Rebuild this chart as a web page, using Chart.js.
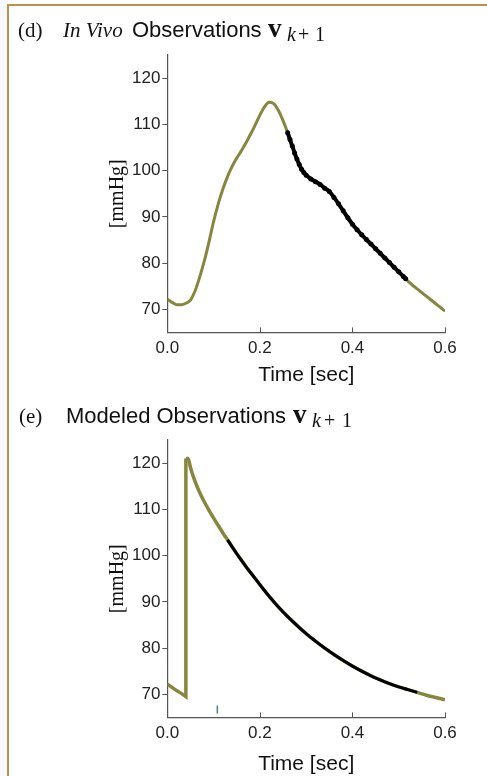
<!DOCTYPE html>
<html>
<head>
<meta charset="utf-8">
<script src="https://cdn.jsdelivr.net/npm/chart.js@4.4.1/dist/chart.umd.min.js"></script>
<style>
  html, body { margin: 0; padding: 0; background: #fff; overflow: hidden; }
  body { width: 487px; height: 776px; position: relative; }
  #strip { position: absolute; left: 0; top: 0; width: 7px; height: 776px; background: #f6f8fb; }
  #vline { position: absolute; left: 7px; top: 4px; width: 2px; height: 772px; background: #b8924e; }
  #hline { position: absolute; left: 7px; top: 4px; width: 480px; height: 2px; background: #b8924e; }
  .panel { position: absolute; left: 0; width: 487px; }
</style>
</head>
<body>
<div id="strip"></div>
<div id="vline"></div>
<div id="hline"></div>
<div class="panel" style="top:0;height:394px"><canvas id="chartD"></canvas></div>
<div class="panel" style="top:390px;height:389px"><canvas id="chartE"></canvas></div>
<script>
// axis ticks
const timeTicks = [0, 0.2, 0.4, 0.6];
const pressureTicks = [70, 80, 90, 100, 110, 120];

// (d) in vivo pressure trace
const vivoTimes = [0, 0.01, 0.02, 0.03, 0.04, 0.05, 0.06, 0.07, 0.08, 0.09,
  0.10, 0.11, 0.12, 0.13, 0.14, 0.15, 0.16, 0.17, 0.18, 0.19,
  0.20, 0.21, 0.22, 0.23, 0.24, 0.25, 0.26, 0.27, 0.28, 0.29,
  0.30, 0.31, 0.32, 0.33, 0.34, 0.35, 0.36, 0.37, 0.38, 0.39,
  0.40, 0.41, 0.42, 0.43, 0.44, 0.45, 0.46, 0.47, 0.48, 0.49,
  0.50, 0.51, 0.52, 0.53, 0.54, 0.55, 0.56, 0.57, 0.58, 0.59, 0.60];
const vivoPressure = [72.2, 71.5, 71.0, 71.0, 71.3, 72.0, 74.0, 77.0, 80.5, 84.6,
  89.0, 92.8, 96.0, 98.7, 100.9, 102.7, 104.3, 106.0, 107.9, 109.9,
  112.0, 113.8, 114.8, 114.5, 113.0, 110.8, 108.2, 105.3, 102.5, 100.3,
  99.0, 98.2, 97.6, 97.0, 96.2, 95.5, 94.2, 92.8, 91.3, 89.8,
  88.4, 87.2, 86.1, 85.1, 84.1, 83.1, 82.1, 81.1, 80.1, 79.1,
  78.1, 77.1, 76.1, 75.2, 74.4, 73.6, 72.8, 72.0, 71.2, 70.4, 69.6];

// (d) observed samples (black dots)
const vivoObsTimes = [0.26, 0.265, 0.27, 0.275, 0.28, 0.285, 0.29, 0.295, 0.30,
  0.31, 0.32, 0.33, 0.34, 0.35, 0.36, 0.37, 0.38, 0.39, 0.40,
  0.41, 0.42, 0.43, 0.44, 0.45, 0.46, 0.47, 0.48, 0.49, 0.50, 0.51, 0.515];
const vivoObsPressure = [108.2, 106.7, 105.3, 103.8, 102.5, 101.3, 100.3, 99.6, 99.0,
  98.2, 97.6, 97.0, 96.2, 95.5, 94.2, 92.8, 91.3, 89.8, 88.4,
  87.2, 86.1, 85.1, 84.1, 83.1, 82.1, 81.1, 80.1, 79.1, 78.1, 77.1, 76.6];

// (e) modeled trace: drop before the jump, then the decay
const modelRiseTimes = [0, 0.01, 0.02, 0.03, 0.04, 0.04];
const modelRisePressure = [72.2, 71.5, 70.8, 70.2, 69.5, 121.0];
const modelDecayTimes = [0.04, 0.045, 0.05, 0.06, 0.07, 0.08, 0.09, 0.10, 0.11, 0.12,
  0.13, 0.14, 0.15, 0.16, 0.17, 0.18, 0.19, 0.20, 0.22, 0.24,
  0.26, 0.28, 0.30, 0.32, 0.34, 0.36, 0.38, 0.40, 0.42, 0.44,
  0.46, 0.48, 0.50, 0.52, 0.54, 0.56, 0.58, 0.60];
const modelDecayPressure = [121.0, 121.0, 119.0, 116.0, 113.6, 111.6, 109.8, 108.1, 106.5, 104.9,
  103.4, 101.9, 100.4, 99.0, 97.6, 96.3, 95.0, 93.7, 91.2, 88.9,
  86.8, 84.9, 83.1, 81.5, 80.0, 78.6, 77.3, 76.1, 75.0, 74.0,
  73.1, 72.3, 71.6, 71.0, 70.4, 69.8, 69.3, 68.8];

// (e) modeled observations (black)
const modelObsTimes = [0.13, 0.14, 0.15, 0.16, 0.17, 0.18, 0.19, 0.20, 0.22, 0.24,
  0.26, 0.28, 0.30, 0.32, 0.34, 0.36, 0.38, 0.40, 0.42, 0.44,
  0.46, 0.48, 0.50, 0.52, 0.54];
const modelObsPressure = [103.4, 101.9, 100.4, 99.0, 97.6, 96.3, 95.0, 93.7, 91.2, 88.9,
  86.8, 84.9, 83.1, 81.5, 80.0, 78.6, 77.3, 76.1, 75.0, 74.0,
  73.1, 72.3, 71.6, 71.0, 70.4];

// small marker on (e)
const markerTimes = [0.108];
const markerPressure = [66.7];

const olive = '#86863f';

function toPoints(xs, ys) {
  return xs.map((x, i) => ({ x: x, y: ys[i] }));
}

// titles drawn straight on the canvas
const panelTitle = {
  id: 'panelTitle',
  afterDraw(chart, args, opts) {
    const ctx = chart.ctx;
    ctx.save();
    ctx.fillStyle = '#111';
    ctx.textBaseline = 'alphabetic';
    opts.parts.forEach(function (p) {
      ctx.font = p.font;
      ctx.fillText(p.text, p.x, opts.y + (p.dy || 0));
    });
    ctx.restore();
  }
};

// x ticks point into the plot
const inwardTicks = {
  id: 'inwardTicks',
  afterDraw(chart) {
    const xs = chart.scales.x, ctx = chart.ctx, bottom = chart.chartArea.bottom;
    ctx.save();
    ctx.strokeStyle = '#555';
    ctx.lineWidth = 1;
    xs.ticks.forEach(function (t) {
      const px = Math.round(xs.getPixelForValue(t.value)) + 0.5;
      ctx.beginPath();
      ctx.moveTo(px, bottom);
      ctx.lineTo(px, bottom - 5);
      ctx.stroke();
    });
    ctx.restore();
  }
};

function scalesConfig(titleShift) {
  return {
    x: {
      type: 'linear',
      min: 0,
      max: 0.6,
      afterBuildTicks: function (scale) {
        scale.ticks = timeTicks.map(v => ({ value: v }));
      },
      ticks: {
        padding: 6,
        color: '#222',
        font: { family: 'Liberation Sans', size: 17 },
        callback: v => Number(v).toFixed(1)
      },
      grid: { display: true, drawOnChartArea: false, drawTicks: false, color: '#555' },
      border: { display: true, color: '#555', width: 1.2 },
      title: {
        display: true,
        text: 'Time [sec]',
        color: '#111',
        font: { family: 'Liberation Sans', size: 21 },
        padding: { top: titleShift, bottom: 4 - titleShift }
      }
    },
    y: {
      min: 65,
      max: 125,
      afterBuildTicks: function (scale) {
        scale.ticks = pressureTicks.map(v => ({ value: v }));
      },
      ticks: {
        padding: 2,
        color: '#222',
        font: { family: 'Liberation Sans', size: 17 }
      },
      grid: { display: true, drawOnChartArea: false, drawTicks: true, tickLength: 5, color: '#555' },
      border: { display: true, color: '#555', width: 1.2 },
      title: {
        display: true,
        text: '[mmHg]',
        color: '#111',
        font: { family: 'Liberation Serif', size: 20 },
        padding: { top: 4, bottom: 0 }
      }
    }
  };
}

// (d)
new Chart(document.getElementById('chartD'), {
  type: 'line',
  data: {
    datasets: [{
      data: toPoints(vivoObsTimes, vivoObsPressure),
      borderColor: '#000',
      borderWidth: 4,
      pointRadius: 2.5,
      pointBorderWidth: 0,
      pointBackgroundColor: '#000',
      cubicInterpolationMode: 'monotone',
      order: 0
    }, {
      data: toPoints(vivoTimes, vivoPressure),
      borderColor: olive,
      borderWidth: 3,
      pointRadius: 0,
      cubicInterpolationMode: 'monotone',
      order: 1
    }]
  },
  options: {
    responsive: true,
    maintainAspectRatio: false,
    animation: false,
    layout: { padding: { left: 102, right: 42, top: 55, bottom: 0 } },
    scales: scalesConfig(-2),
    plugins: {
      legend: { display: false },
      tooltip: { enabled: false },
      panelTitle: {
        y: 37,
        parts: [
          { text: '(d)', font: '21px "Liberation Serif"', x: 18 },
          { text: 'In Vivo', font: 'italic 21px "Liberation Serif"', x: 63 },
          { text: 'Observations', font: '22px "Liberation Sans"', x: 132 },
          { text: 'v', font: 'bold 27px "Liberation Serif"', x: 268 },
          { text: 'k', font: 'italic 20px "Liberation Serif"', x: 287, dy: 4 },
          { text: '+', font: '20px "Liberation Serif"', x: 298, dy: 4 },
          { text: '1', font: '20px "Liberation Serif"', x: 315, dy: 4 }
        ]
      }
    }
  },
  plugins: [panelTitle, inwardTicks]
});

// (e)
new Chart(document.getElementById('chartE'), {
  type: 'line',
  data: {
    datasets: [{
      data: toPoints(markerTimes, markerPressure),
      showLine: false,
      pointStyle: 'line',
      rotation: 90,
      pointRadius: 4,
      pointBorderWidth: 1.5,
      pointBorderColor: '#4d7f8c',
      order: 0
    }, {
      data: toPoints(modelObsTimes, modelObsPressure),
      borderColor: '#000',
      borderWidth: 3,
      pointRadius: 0,
      cubicInterpolationMode: 'monotone',
      order: 1
    }, {
      data: toPoints(modelDecayTimes, modelDecayPressure),
      borderColor: olive,
      borderWidth: 3.5,
      pointRadius: 0,
      cubicInterpolationMode: 'monotone',
      order: 2
    }, {
      data: toPoints(modelRiseTimes, modelRisePressure),
      borderColor: olive,
      borderWidth: 3.5,
      pointRadius: 0,
      tension: 0,
      order: 3
    }]
  },
  options: {
    responsive: true,
    maintainAspectRatio: false,
    animation: false,
    layout: { padding: { left: 102, right: 42, top: 50, bottom: 0 } },
    scales: scalesConfig(2),
    plugins: {
      legend: { display: false },
      tooltip: { enabled: false },
      panelTitle: {
        y: 33,
        parts: [
          { text: '(e)', font: '21px "Liberation Serif"', x: 19 },
          { text: 'Modeled Observations', font: '22px "Liberation Sans"', x: 66 },
          { text: 'v', font: 'bold 27px "Liberation Serif"', x: 293 },
          { text: 'k', font: 'italic 20px "Liberation Serif"', x: 312, dy: 4 },
          { text: '+', font: '20px "Liberation Serif"', x: 324, dy: 4 },
          { text: '1', font: '20px "Liberation Serif"', x: 342, dy: 4 }
        ]
      }
    }
  },
  plugins: [panelTitle, inwardTicks]
});
</script>
</body>
</html>
